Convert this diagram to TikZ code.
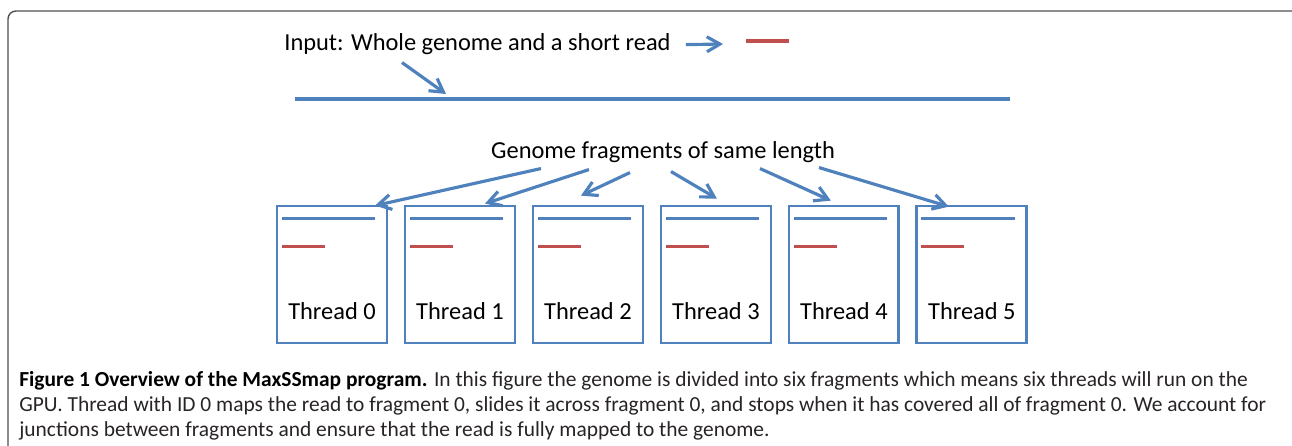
\documentclass[tikz,border=0pt]{standalone}
\usepackage{fontspec}
\setmainfont{Carlito}
\usepackage{tikz}
\usetikzlibrary{positioning, arrows.meta}
\definecolor{genomeBlue}{RGB}{79, 129, 189}
\definecolor{readRed}{RGB}{192, 80, 77}
\definecolor{frameGray}{RGB}{80, 80, 80}
\definecolor{captionText}{RGB}{40, 36, 37}
\tikzset{
    thread_box/.style={
        draw=genomeBlue,
        line width=1.6pt,
        minimum width=2.2cm,
        minimum height=2.74cm,
        inner sep=0pt
    },
    label_text/.style={
        font=\fontsize{13.9pt}{16pt}\selectfont,
        text=black,
        inner sep=0pt
    },
    caption_text/.style={
        font=\fontsize{12.2pt}{14.2pt}\selectfont,
        text=captionText,
        align=left,
        inner sep=0pt
    },
    blue_arrow/.style={
        -{Straight Barb[length=2.6mm, width=3mm]},
        line width=1.8pt,
        draw=genomeBlue
    },
    genome_line/.style={
        line width=1.8pt,
        draw=genomeBlue
    },
    read_line/.style={
        line width=1.8pt,
        draw=readRed
    },
    frame_line/.style={
        line width=0.8pt,
        draw=frameGray,
        rounded corners=0.16cm
    }
}

\begin{document}
\begin{tikzpicture}[x=0.02cm, y=-0.02cm, node distance=2.56cm]
    \useasboundingbox (0,0) rectangle (1292,446);
    \draw[frame_line] (8,470) -- (8,11) -- (1300,11) -- (1300,470);

    % input genome and read
    \node[label_text, anchor=base west] (input) at (284,51) {Input: Whole genome and a short read};
    \coordinate (read_a) at (746,41);
    \coordinate (read_b) at (789,41);
    \coordinate (genome_a) at (295,99);
    \coordinate (genome_b) at (1010,99);
    \draw[read_line] (read_a) -- (read_b);
    \draw[genome_line] (genome_a) -- (genome_b);
    \draw[blue_arrow] ([xshift=0.3cm]input.east) -- ([xshift=-0.46cm, yshift=-0.06cm]read_a);
    \draw[blue_arrow] ([shift={(118,7)}]input.south west) -- ([shift={(151,-5)}]genome_a);

    % one box per thread
    \node[label_text, anchor=base] (frag) at (663,158) {Genome fragments of same length};
    \node[thread_box] (t0) at (332,274.5) {};
    \node[thread_box, right of=t0] (t1) {};
    \node[thread_box, right of=t1] (t2) {};
    \node[thread_box, right of=t2] (t3) {};
    \node[thread_box, right of=t3] (t4) {};
    \node[thread_box, right of=t4] (t5) {};
    \foreach \t/\n in {t0/0, t1/1, t2/2, t3/3, t4/4, t5/5} {
        \draw[genome_line] ([shift={(6,14)}]\t.north west) -- ([shift={(-13,14)}]\t.north east);
        \draw[read_line] ([shift={(6,42)}]\t.north west) -- ([shift={(49,42)}]\t.north west);
        \node[label_text, above=0.48cm of \t.south] (l\n) {Thread \n};
    }

    \draw[blue_arrow] ([shift={(-122,6)}]frag.south) -- ([shift={(43,1)}]t0.north);
    \draw[blue_arrow] ([shift={(-74,7)}]frag.south) -- ([shift={(25,-1)}]t1.north);
    \draw[blue_arrow] ([shift={(-33,10)}]frag.south) -- ([shift={(-7,-9)}]t2.north);
    \draw[blue_arrow] ([shift={(8,9)}]frag.south) -- ([shift={(1,-6)}]t3.north);
    \draw[blue_arrow] ([shift={(97,6)}]frag.south) -- ([shift={(-13,-4)}]t4.north);
    \draw[blue_arrow] ([shift={(156,5)}]frag.south) -- ([shift={(-23,2)}]t5.north);

    % caption
    \node[caption_text, anchor=north west] (caption) at (19,371) {%
        \textbf{\color{black}Figure 1 Overview of the MaxSSmap program.} In this figure the genome is divided into six fragments which means six threads will run on the\\
        GPU. Thread with ID 0 maps the read to fragment 0, slides it across fragment 0, and stops when it has covered all of fragment 0. We account for\\
        junctions between fragments and ensure that the read is fully mapped to the genome.};
\end{tikzpicture}
\end{document}
